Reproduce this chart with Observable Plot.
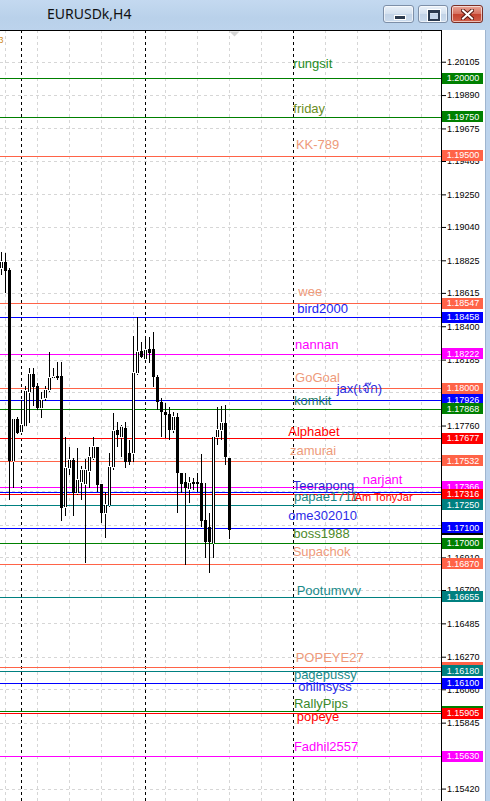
<!DOCTYPE html>
<html>
<head>
<meta charset="utf-8">
<script src="https://cdn.jsdelivr.net/npm/d3@7"></script>
<script src="https://cdn.jsdelivr.net/npm/@observablehq/plot@0.6"></script>
<style>
  html, body { margin: 0; padding: 0; background: #ffffff; }
  #win { position: relative; width: 490px; height: 801px; overflow: hidden; background: #ffffff; }
  #titlebar {
    position: absolute; left: 0; top: 0; width: 490px; height: 30px;
    background: linear-gradient(#c4d9f0, #b9d1ea 60%, #bcd3ec);
  }
  #title {
    position: absolute; left: 47px; top: 4px;
    font: 14px "Noto Sans", "Open Sans", sans-serif; color: #111;
  }
  .btn {
    position: absolute; top: 5px; height: 18px; box-sizing: border-box;
    border: 1px solid #7d8fa8; border-radius: 3px;
    background: linear-gradient(#eaf1f9, #d3e0ef 50%, #c2d3e7 51%, #cbdbed);
    box-shadow: inset 0 0 0 1px rgba(255,255,255,0.6);
  }
  #bmin { left: 383px; width: 31px; }
  #bmax { left: 418px; width: 30px; }
  #bclose {
    left: 451px; width: 32px; border-color: #7a2f27;
    background: linear-gradient(#e9a596, #d6705f 50%, #c5432f 51%, #d0604c);
  }
  #bmin i { position: absolute; left: 10px; top: 9px; width: 10px; height: 3px; background: #2b3a4f; border: 1px solid #fff; box-sizing: content-box; }
  #bmax i { position: absolute; left: 9px; top: 4px; width: 8px; height: 6px; border: 2px solid #2b3a4f; border-top-width: 3px; outline: 1px solid #fff; }
  #bclose svg { position: absolute; left: 9px; top: 3px; }
  #chart { position: absolute; left: 0; top: 30px; }
  #rframe { position: absolute; left: 485px; top: 30px; width: 5px; height: 771px; background: #bcd3ec; border-left: 1px solid #9fb5cf; box-sizing: border-box; }
</style>
</head>
<body>
<div id="win">
  <div id="titlebar">
    <div id="title">EURUSDk,H4</div>
    <div class="btn" id="bmin"><i></i></div>
    <div class="btn" id="bmax"><i></i></div>
    <div class="btn" id="bclose">
      <svg width="13" height="11" viewBox="0 0 13 11">
        <path d="M2,1.5 L11,9.5 M11,1.5 L2,9.5" stroke="#5a1a12" stroke-width="4" stroke-linecap="square"/>
        <path d="M2,1.5 L11,9.5 M11,1.5 L2,9.5" stroke="#ffffff" stroke-width="2" stroke-linecap="square"/>
      </svg>
    </div>
  </div>
  <div id="chart"></div>
  <div id="rframe"></div>
</div>
<script>
// EURUSD H4 candles, oldest first
const candleOpen = [1.18775,1.18814,1.18763,1.17532,1.17802,1.17718,1.17757,1.17976,1.18092,1.18015,
  1.17873,1.17938,1.17989,1.18067,1.18079,1.18079,1.17235,1.17486,1.17538,1.17325,
  1.17396,1.17383,1.17467,1.17551,1.17622,1.17383,1.17196,1.17248,1.17493,1.17731,
  1.17686,1.17744,1.17583,1.17583,1.18099,1.18241,1.18189,1.18253,1.18253,1.18073,
  1.17912,1.17847,1.17834,1.17731,1.17815,1.17454,1.17396,1.17351,1.17396,1.17396,
  1.17390,1.17151,1.17106,1.17003,1.17686,1.17731,1.17776,1.17551];
const candleHigh = [1.18879,1.18872,1.18775,1.17809,1.17815,1.17925,1.18015,1.18131,1.18131,1.18034,
  1.17976,1.18015,1.18234,1.18131,1.18170,1.18170,1.17686,1.17622,1.17551,1.17615,
  1.17499,1.17544,1.17622,1.17686,1.17622,1.17383,1.17332,1.17583,1.17841,1.17783,
  1.17764,1.17783,1.17667,1.18337,1.18460,1.18299,1.18324,1.18331,1.18363,1.18086,
  1.17938,1.17905,1.17880,1.17847,1.17841,1.17454,1.17454,1.17428,1.17422,1.17454,
  1.17577,1.17390,1.17196,1.17686,1.17880,1.17886,1.17893,1.17551];
const candleLow = [1.18730,1.18614,1.17280,1.17358,1.17706,1.17712,1.17757,1.17776,1.17886,1.17860,
  1.17809,1.17918,1.17976,1.18060,1.18054,1.17145,1.17177,1.17441,1.17177,1.17312,
  1.17280,1.16874,1.17358,1.17538,1.17332,1.17132,1.17035,1.17235,1.17474,1.17622,
  1.17557,1.17486,1.17506,1.17525,1.18086,1.18195,1.18183,1.18163,1.18009,1.17860,
  1.17686,1.17680,1.17667,1.17712,1.17196,1.17325,1.16861,1.17261,1.17345,1.17332,
  1.17106,1.16906,1.16810,1.16906,1.17635,1.17667,1.17506,1.17029];
const candleClose = [1.18814,1.18756,1.17532,1.17802,1.17712,1.17764,1.17983,1.18092,1.18009,1.17873,
  1.17925,1.17989,1.18067,1.18073,1.18067,1.17229,1.17486,1.17538,1.17325,1.17409,
  1.17474,1.17474,1.17557,1.17622,1.17377,1.17196,1.17248,1.17493,1.17725,1.17699,
  1.17751,1.17525,1.17525,1.18099,1.18234,1.18202,1.18247,1.18228,1.18073,1.17912,
  1.17847,1.17828,1.17731,1.17815,1.17454,1.17383,1.17358,1.17390,1.17383,1.17383,
  1.17145,1.17010,1.17010,1.17686,1.17731,1.17776,1.17557,1.17088];

// price axis
const tickValues = [1.20105,1.19890,1.19675,1.19465,1.19250,1.19040,1.18825,1.18615,1.18400,1.18185,
  1.17975,1.17760,1.17550,1.17335,1.17120,1.16910,1.16700,1.16485,1.16270,1.16060,
  1.15845,1.15630,1.15420];

// horizontal levels (drawn in this order; later tags sit on top)
const levelName = ["rungsit","friday","KK-789","wee","bird2000","nannan","GoGoal","jax(เจ๊ก)","komkit",
  "Alphabet","zamurai","Teerapong","narjant","/Am TonyJar","papae1711","ome302010","boss1988",
  "Supachok","Pootumvvv","POPEYE27","pagepussy","ohlinsyss","RallyPips","popeye","Fadhil2557"];
const levelPrice = [1.20000,1.19750,1.19500,1.18547,1.18458,1.18222,1.18000,1.17926,1.17868,
  1.17677,1.17532,1.17330,1.17366,1.17316,1.17250,1.17100,1.17000,
  1.16870,1.16655,1.16202,1.16180,1.16100,1.15920,1.15905,1.15630];
const levelColor = ["#008000","#008000","#ff6347","#ff6347","#0000ff","#ff00ff","#ff6347","#0000ff","#008000",
  "#ff0000","#ff6347","#0000ff","#ff00ff","#ff0000","#008080","#0000ff","#008000",
  "#ff6347","#008080","#ff6347","#008080","#0000ff","#008000","#ff0000","#ff00ff"];

// text objects: anchor price and bar for each level name
const labelPrice = [1.20093,1.19803,1.19575,1.18628,1.18518,1.18286,1.18070,1.17999,1.17925,
  1.17720,1.17597,1.17377,1.17415,1.17300,1.17303,1.17183,1.17067,
  1.16948,1.16695,1.16265,1.16159,1.16078,1.15972,1.15885,1.15691];
const labelBar = [72.95,72.95,73.6,74.2,73.95,73.4,73.4,83.8,73.1,
  71.7,72.1,72.8,90.3,87.55,73.1,71.7,72.95,
  72.8,73.8,73.55,73.1,74.2,73.1,73.8,73.1];
const labelColor = ["#1e8c1e","#6b8e23","#ee9a7a","#ee9a7a","#2020f0","#ff00ff","#ee9a7a","#2828e0","#1f7a5f",
  "#ff0000","#ee9a7a","#2a2ad0","#ff00ff","#ff0000","#1a8585","#2c2ce8","#4d8a2a",
  "#ee9a7a","#1a8a8a","#ee9a7a","#1a8a8a","#2c2ce8","#3a8a2a","#ff0000","#ff00ff"];

// period separators and grid (bar index)
const separatorBars = [5, 36, 73];
const gridBars = d3.range(1, 110, 8);
const shiftBar = 58.25;

const candles = candleOpen.map((o, i) => ({
  i, open: o, high: candleHigh[i], low: candleLow[i], close: candleClose[i]
}));
const bull = candles.filter(d => d.close >= d.open);
const bear = candles.filter(d => d.close < d.open);
const levels = levelName.map((name, k) => ({
  name, price: levelPrice[k], color: levelColor[k], tag: levelPrice[k].toFixed(5)
}));
const labels = levelName.map((name, k) => ({
  name, price: labelPrice[k], bar: labelBar[k], color: labelColor[k]
}));
const lastClose = candleClose[candleClose.length - 1];
const bid = [{price: lastClose, tag: lastClose.toFixed(5)}];

const W = 490, H = 771, axisWidth = 49;
const pxPerPrice = 15515;          // vertical resolution of the chart
const topPrice = 1.2 + 48 / pxPerPrice;
const bottomPrice = topPrice - H / pxPerPrice;
const lastBar = 110;

// a price tag is covered by the next tags drawn below it when they sit within a few pixels
const px = p => p * pxPerPrice;
const visibleTags = levels.filter((l, k) =>
  !levels.slice(k + 1).some(m => Math.abs(px(m.price) - px(l.price)) <= 4.5 &&
    levels.slice(k + 1).some(n => n !== m && Math.abs(px(n.price) - px(l.price)) <= 6)));
const tagText = levels.filter((l, k) =>
  !levels.slice(k + 1).some(m => Math.abs(px(m.price) - px(l.price)) <= 4.5));
// scale labels hidden behind a price tag
const tickShown = tickValues.filter(t => !levels.some(l => Math.abs(px(l.price) - px(t)) <= 4.5));

const tagSymbol = { draw(ctx) { ctx.rect(-20.5, -6, 41, 11); } };
const shiftSymbol = { draw(ctx) { ctx.moveTo(-5, 0); ctx.lineTo(5, 0); ctx.lineTo(0, 5); ctx.closePath(); } };

const labelFont = "'Liberation Sans', Arial, 'DejaVu Sans', sans-serif";
const crisp = "crispEdges";

const chart = Plot.plot({
  width: W, height: H,
  marginLeft: 0, marginRight: axisWidth, marginTop: 0, marginBottom: 0,
  x: {domain: [-0.25, lastBar], axis: null},
  y: {domain: [bottomPrice, topPrice], axis: null},
  color: {type: "identity"},
  style: {background: "#ffffff", fontFamily: labelFont, overflow: "visible"},
  marks: [
    // dashed grid
    Plot.ruleY(tickValues, {stroke: "#d6d6d6", strokeDasharray: "3,3", shapeRendering: crisp}),
    Plot.ruleX(gridBars, {stroke: "#d6d6d6", strokeDasharray: "3,3", shapeRendering: crisp}),
    // period separators
    Plot.ruleX(separatorBars, {stroke: "#000000", strokeDasharray: "3,3", shapeRendering: crisp}),
    // level lines
    Plot.ruleY(levels, {y: "price", stroke: "color", strokeWidth: 1, shapeRendering: crisp}),
    // candles
    Plot.ruleX(candles, {x: "i", y1: "low", y2: "high", stroke: "#000", shapeRendering: crisp}),
    Plot.ruleX(bear, {x: "i", y1: "open", y2: "close", stroke: "#000", strokeWidth: 3, shapeRendering: crisp}),
    Plot.ruleX(bull, {x: "i", y1: "open", y2: "close", stroke: "#000", strokeWidth: 3, shapeRendering: crisp}),
    Plot.ruleX(bull, {x: "i", y1: "open", y2: "close", stroke: "#fff", strokeWidth: 1, insetTop: 1, insetBottom: 1, shapeRendering: crisp}),
    // level names
    Plot.text(labels.filter(d => d.name !== "/Am TonyJar"), {
      x: "bar", y: "price", text: "name", fill: "color",
      textAnchor: "start", lineAnchor: "middle", fontSize: 13
    }),
    Plot.text(labels.filter(d => d.name === "/Am TonyJar"), {
      x: "bar", y: "price", text: "name", fill: "color",
      textAnchor: "start", lineAnchor: "middle", fontSize: 11
    }),
    // chart shift marker and corner text
    Plot.dot([shiftBar], {x: d => d, frameAnchor: "top", symbol: shiftSymbol, fill: "#d4d4d4", stroke: "none", dy: 1}),
    Plot.text(["3"], {frameAnchor: "top-left", text: d => d, fill: "#d08a20", fontSize: 9, textAnchor: "start", dx: -2, dy: 6}),
    // frame: top and price-scale border
    Plot.ruleY([topPrice], {stroke: "#000", shapeRendering: crisp}),
    Plot.ruleX([lastBar], {stroke: "#000", shapeRendering: crisp}),
    // price scale
    Plot.axisY(tickValues, {
      anchor: "right", tickSize: 4, tickPadding: 1.5, fontSize: 9,
      tickFormat: d => tickShown.includes(d) ? d.toFixed(5) : "",
      label: null, stroke: "#000", fill: "#000"
    }),
    // bid tag, then level tags
    Plot.dot(bid, {y: "price", frameAnchor: "right", dx: 21, symbol: tagSymbol, fill: "#000", stroke: "none", shapeRendering: crisp}),
    Plot.text(bid, {y: "price", frameAnchor: "right", dx: 21.5, text: "tag", fill: "#fff", fontSize: 9, textAnchor: "middle", dy: -0.5}),
    ...levels.filter(l => visibleTags.includes(l)).flatMap(l => [
      Plot.dot([l], {y: "price", frameAnchor: "right", dx: 21, symbol: tagSymbol, fill: "color", stroke: "none", shapeRendering: crisp}),
      ...(tagText.includes(l)
        ? [Plot.text([l], {y: "price", frameAnchor: "right", dx: 21.5, text: "tag", fill: "#fff", fontSize: 9, textAnchor: "middle", dy: -0.5})]
        : [])
    ])
  ]
});
document.getElementById("chart").appendChild(chart);
</script>
</body>
</html>
